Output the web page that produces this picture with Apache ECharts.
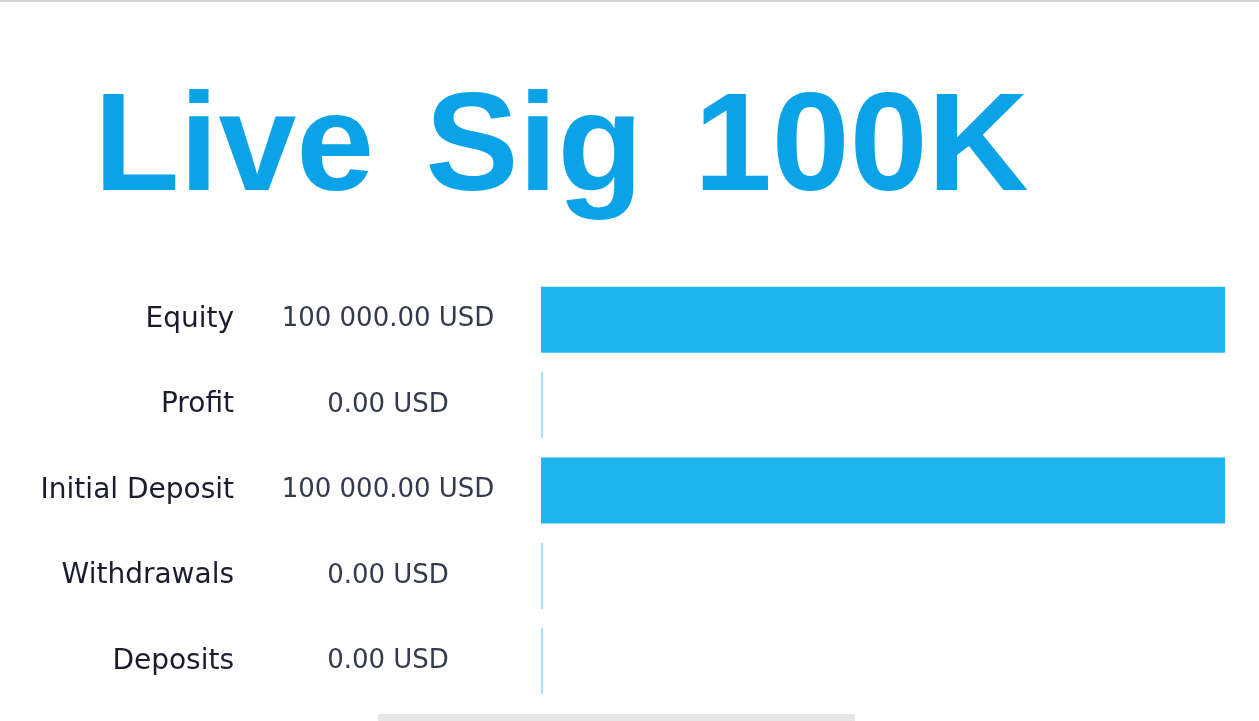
<!DOCTYPE html>
<html>
<head>
<meta charset="utf-8">
<script src="https://cdn.jsdelivr.net/npm/echarts@6/dist/echarts.min.js"></script>
<style>
html,body{margin:0;padding:0;background:#fff;}
#c{width:1259px;height:721px;}
</style>
</head>
<body>
<div id="c"></div>
<script>
const titleWords = ['Live', 'Sig', '100K'];
const categories = ['Equity', 'Profit', 'Initial Deposit', 'Withdrawals', 'Deposits'];
const values = [100000, 0, 100000, 0, 0];
const currency = 'USD';

function fmt(v) {
  const parts = v.toFixed(2).split('.');
  const intPart = parts[0].replace(/\B(?=(\d{3})+(?!\d))/g, ' ');
  return intPart + '.' + parts[1] + ' ' + currency;
}
const valueLabels = values.map(fmt);

const titleFont = {
  fontFamily: 'Liberation Sans, Arial, sans-serif',
  fontWeight: 'bold',
  fontSize: 140,
  color: '#0aa3e8'
};

const chart = echarts.init(document.getElementById('c'), null, {renderer: 'canvas'});
const commonY = {
  type: 'category',
  inverse: true,
  position: 'left',
  axisLine: {show: false},
  axisTick: {show: false},
  splitLine: {show: false}
};
chart.setOption({
  backgroundColor: '#ffffff',
  animation: false,
  title: {
    text: titleWords.map(w => '{w|' + w + '}').join('{s| }'),
    left: 89,
    top: 76,
    textStyle: {
      fontFamily: titleFont.fontFamily,
      fontWeight: 'bold',
      fontSize: 140,
      color: '#0aa3e8',
      rich: {
        w: titleFont,
        s: Object.assign({}, titleFont, {width: 51})
      }
    }
  },
  graphic: [
    {type: 'rect', shape: {x: 0, y: 0, width: 1259, height: 2}, style: {fill: '#d4d4d4'}, silent: true},
    {type: 'rect', shape: {x: 378, y: 714, width: 477, height: 7}, style: {fill: '#e6e6e6'}, silent: true}
  ],
  grid: {left: 541, right: 34, top: 277, bottom: 17, containLabel: false},
  xAxis: {
    type: 'value', min: 0, max: 100000,
    show: false
  },
  yAxis: [
    Object.assign({}, commonY, {
      data: categories,
      axisLabel: {
        margin: 307,
        align: 'right',
        fontFamily: 'DejaVu Sans',
        fontSize: 28,
        color: '#1b1c2e'
      }
    }),
    Object.assign({}, commonY, {
      data: valueLabels,
      axisLabel: {
        margin: 153,
        align: 'center',
        fontFamily: 'DejaVu Sans',
        fontSize: 26,
        color: '#343b4e'
      }
    })
  ],
  series: [{
    type: 'bar',
    yAxisIndex: 0,
    data: values,
    barWidth: 66,
    barMinHeight: 2,
    itemStyle: {
      color: function (p) { return p.value === 0 ? '#a8dcf6' : '#1fb5ec'; }
    }
  }]
});
</script>
</body>
</html>
